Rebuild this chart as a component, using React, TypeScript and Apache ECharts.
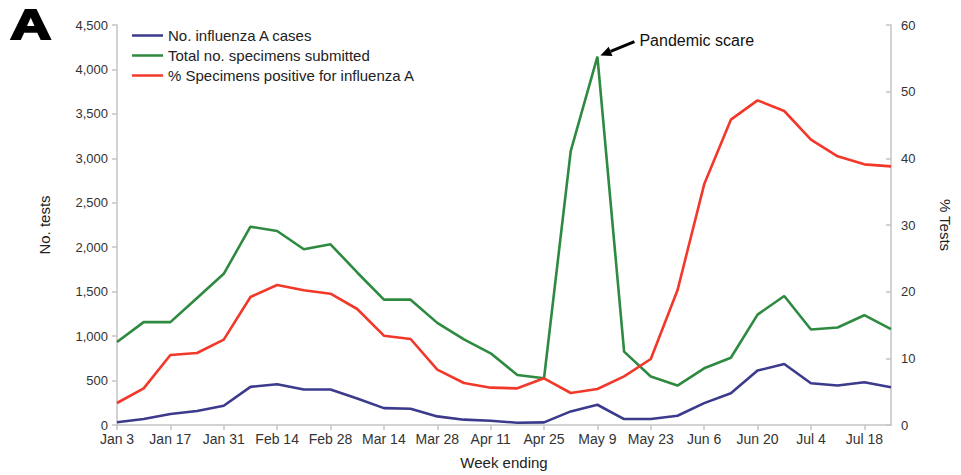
import React, { useEffect, useRef } from "react";
import * as echarts from "echarts";

const weeks = [
  "Jan 3", "Jan 10", "Jan 17", "Jan 24", "Jan 31",
  "Feb 7", "Feb 14", "Feb 21", "Feb 28",
  "Mar 7", "Mar 14", "Mar 21", "Mar 28",
  "Apr 4", "Apr 11", "Apr 18", "Apr 25",
  "May 2", "May 9", "May 16", "May 23", "May 30",
  "Jun 6", "Jun 13", "Jun 20", "Jun 27",
  "Jul 4", "Jul 11", "Jul 18", "Jul 25",
];
const influenzaACases = [
  30, 67, 123, 157, 216, 429, 459, 399, 399, 298, 190, 183, 97, 60, 48,
  25, 30, 153, 228, 67, 67, 104, 246, 358, 612, 686, 470, 444, 481, 425,
];
const specimensSubmitted = [
  933, 1157, 1157, 1429, 1701, 2231, 2183, 1977, 2033, 1716, 1410, 1410, 1149, 963, 806,
  563, 526, 3082, 4145, 825, 545, 444, 638, 757, 1242, 1451, 1075, 1097, 1235, 1078,
];
const percentPositive = [
  3.3, 5.5, 10.5, 10.8, 12.8, 19.2, 21.0, 20.2, 19.7, 17.4, 13.4, 12.9, 8.3, 6.3, 5.6,
  5.5, 7.0, 4.8, 5.4, 7.3, 9.9, 20.2, 36.1, 45.8, 48.7, 47.1, 42.8, 40.3, 39.1, 38.8,
];
const seriesNames = [
  "No. influenza A cases",
  "Total no. specimens submitted",
  "% Specimens positive for influenza A",
];
const annotationText = "Pandemic scare";
const annotationWeek = "May 9";

const FONT = "Liberation Sans, Arial, sans-serif";
const AXIS_COLOR = "#c4c4c4";
const TEXT_COLOR = "#333";

export default function App() {
  const ref = useRef<HTMLDivElement>(null);

  useEffect(() => {
    if (!ref.current) return;
    const chart = echarts.init(ref.current, null, { renderer: "svg" });
    const axisLabelBase = { color: TEXT_COLOR, fontFamily: FONT };
    chart.setOption({
      animation: false,
      backgroundColor: "#fff",
      grid: { left: 117, right: 68, top: 25, bottom: 49 },
      legend: {
        orient: "vertical",
        left: 127,
        top: 23,
        itemWidth: 31,
        itemHeight: 2.5,
        itemGap: 5,
        icon: "rect",
        textStyle: { fontFamily: FONT, fontSize: 15, color: "#222" },
        data: seriesNames,
      },
      xAxis: {
        type: "category",
        data: weeks,
        boundaryGap: false,
        name: "Week ending",
        nameLocation: "middle",
        nameGap: 30,
        nameTextStyle: { fontFamily: FONT, fontSize: 15, color: "#222" },
        axisLine: { lineStyle: { color: AXIS_COLOR, width: 1.5 } },
        axisTick: { interval: 1, length: 5, lineStyle: { color: AXIS_COLOR, width: 1.5 } },
        axisLabel: { ...axisLabelBase, interval: 1, fontSize: 14, margin: 7 },
        splitLine: { show: false },
      },
      yAxis: [
        {
          type: "value",
          min: 0,
          max: 4500,
          interval: 500,
          name: "No. tests",
          nameLocation: "middle",
          nameGap: 65,
          nameRotate: 90,
          nameTextStyle: { fontFamily: FONT, fontSize: 15, color: "#222" },
          axisLine: { show: true, lineStyle: { color: AXIS_COLOR, width: 1.5 } },
          axisTick: { show: true, length: 5, lineStyle: { color: AXIS_COLOR, width: 1.5 } },
          axisLabel: {
            ...axisLabelBase,
            fontSize: 13,
            margin: 9,
            formatter: (v: number) => v.toLocaleString("en-US"),
          },
          splitLine: { show: false },
        },
        {
          type: "value",
          min: 0,
          max: 60,
          interval: 10,
          position: "right",
          name: "% Tests",
          nameLocation: "middle",
          nameGap: 47,
          nameRotate: -90,
          nameTextStyle: { fontFamily: FONT, fontSize: 15, color: "#222" },
          axisLine: { show: true, lineStyle: { color: AXIS_COLOR, width: 1.5 } },
          axisTick: { show: true, inside: true, length: 5, lineStyle: { color: AXIS_COLOR, width: 1.5 } },
          axisLabel: { ...axisLabelBase, fontSize: 13, margin: 10 },
          splitLine: { show: false },
        },
      ],
      series: [
        {
          name: seriesNames[0],
          type: "line",
          yAxisIndex: 0,
          data: influenzaACases,
          showSymbol: false,
          color: "#3b3a8c",
          lineStyle: { width: 2.6, color: "#3b3a8c" },
        },
        {
          name: seriesNames[1],
          type: "line",
          yAxisIndex: 0,
          data: specimensSubmitted,
          showSymbol: false,
          color: "#2e8a40",
          lineStyle: { width: 2.6, color: "#2e8a40" },
        },
        {
          name: seriesNames[2],
          type: "line",
          yAxisIndex: 1,
          data: percentPositive,
          showSymbol: false,
          color: "#f2382a",
          lineStyle: { width: 2.6, color: "#f2382a" },
        },
      ],
    });

    const idx = weeks.indexOf(annotationWeek);
    const peak = chart.convertToPixel({ xAxisIndex: 0, yAxisIndex: 0 }, [idx, specimensSubmitted[idx]]) as number[];
    const tip = [peak[0] + 3, peak[1] - 1];
    const tail = [peak[0] + 37, peak[1] - 15];
    const dx = tip[0] - tail[0];
    const dy = tip[1] - tail[1];
    const len = Math.sqrt(dx * dx + dy * dy);
    const ux = dx / len;
    const uy = dy / len;
    const headLen = 11;
    const headW = 5;
    const base = [tip[0] - ux * headLen, tip[1] - uy * headLen];
    const p1 = [base[0] - uy * headW, base[1] + ux * headW];
    const p2 = [base[0] + uy * headW, base[1] - ux * headW];

    chart.setOption({
      graphic: [
        {
          type: "text",
          left: 9,
          top: 3,
          scaleX: 1.35,
          style: {
            text: "A",
            fontFamily: FONT,
            fontSize: 42,
            fontWeight: 900,
            fill: "#000",
            stroke: "#000",
            lineWidth: 2,
          },
        },
        {
          type: "line",
          shape: { x1: tail[0], y1: tail[1], x2: base[0], y2: base[1] },
          style: { stroke: "#000", lineWidth: 3 },
        },
        {
          type: "polygon",
          shape: { points: [tip, p1, p2] },
          style: { fill: "#000" },
        },
        {
          type: "text",
          x: tail[0] + 5,
          y: tail[1] - 1,
          style: {
            text: annotationText,
            fontFamily: FONT,
            fontSize: 16,
            fill: "#111",
            verticalAlign: "middle",
          },
        },
      ],
    });

    return () => chart.dispose();
  }, []);

  return (
    <div
      ref={ref}
      style={{ position: "absolute", left: 0, top: 0, width: 961, height: 475 }}
    />
  );
}
